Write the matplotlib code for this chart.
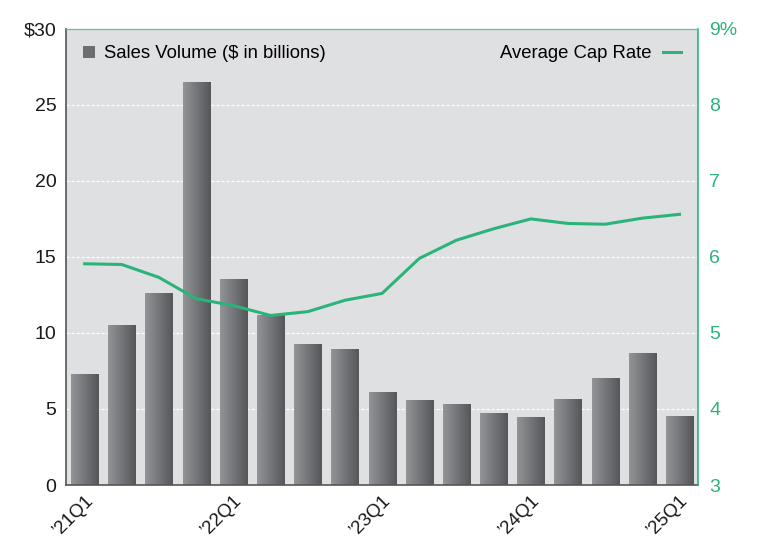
import numpy as np
import matplotlib.pyplot as plt
from matplotlib.patches import Patch
from matplotlib.lines import Line2D
from matplotlib.colors import LinearSegmentedColormap

plt.rcParams['font.family'] = ['Liberation Sans', 'DejaVu Sans']

# quarters '21Q1 .. '25Q1
quarters = ['21Q1', '21Q2', '21Q3', '21Q4', '22Q1', '22Q2', '22Q3', '22Q4',
            '23Q1', '23Q2', '23Q3', '23Q4', '24Q1', '24Q2', '24Q3', '24Q4', '25Q1']
sales_volume = [7.3, 10.55, 12.6, 26.5, 13.55, 11.2, 9.26, 8.97,
                6.12, 5.57, 5.36, 4.74, 4.45, 5.66, 7.07, 8.68, 4.57]
cap_rate = [5.91, 5.90, 5.73, 5.45, 5.36, 5.23, 5.28, 5.43,
            5.52, 5.98, 6.22, 6.37, 6.50, 6.44, 6.43, 6.51, 6.56]
shown_ticks = ['21Q1', '22Q1', '23Q1', '24Q1', '25Q1']

green = '#2bb47a'
bg = '#dfe0e2'

fig = plt.figure(figsize=(7.68, 5.54), dpi=100)
ax = fig.add_axes([0.086, 0.1245, 0.823, 0.8235])
ax.set_facecolor(bg)

x = np.arange(len(quarters))
width = 0.73

# bars with a light-to-dark horizontal gradient
cmap = LinearSegmentedColormap.from_list('bar', ['#939498', '#56575a'])
grad = np.linspace(0, 1, 64).reshape(1, -1)
bars = ax.bar(x, sales_volume, width, color='none', edgecolor='none', zorder=2)
for b in bars:
    x0, y0 = b.get_x(), b.get_y()
    im = ax.imshow(grad, cmap=cmap, aspect='auto', zorder=2,
                   extent=[x0, x0 + b.get_width(), y0, y0 + b.get_height()])
    im.set_clip_path(b)

ax.set_xlim(-0.5, len(quarters) - 0.5)
ax.set_ylim(0, 30)
ax.set_yticks([0, 5, 10, 15, 20, 25, 30])
ax.set_yticklabels(['0', '5', '10', '15', '20', '25', '$30'])
for yv in [5, 10, 15, 20, 25]:
    ax.axhline(yv, color='white', lw=0.9, ls=(0, (2.5, 1.5)), zorder=1)

ticks = [i for i, q in enumerate(quarters) if q in shown_ticks]
ax.set_xticks(ticks)
ax.set_xticklabels(['\u2019' + quarters[i] for i in ticks], rotation=45,
                   ha='right', va='top', rotation_mode='anchor')

ax.tick_params(axis='both', length=0, labelsize=14, colors='#1a1a1a')
ax.tick_params(axis='x', labelsize=13.5, pad=5)
ax.tick_params(axis='y', pad=7)
ax.spines['left'].set_color('#555555')
ax.spines['bottom'].set_color('#555555')
ax.spines['left'].set_linewidth(1.2)
ax.spines['bottom'].set_linewidth(1.2)
ax.spines['top'].set_color('#5cc39a')
ax.spines['right'].set_visible(False)

ax2 = ax.twinx()
ax2.plot(x, cap_rate, color=green, lw=2.2, zorder=3)
ax2.set_ylim(3, 9)
ax2.set_yticks([3, 4, 5, 6, 7, 8, 9])
ax2.set_yticklabels(['3', '4', '5', '6', '7', '8', '9%'])
ax2.tick_params(axis='y', length=0, labelsize=14, colors=green, pad=8)
ax2.spines['right'].set_color(green)
ax2.spines['right'].set_linewidth(1.2)
ax2.spines['top'].set_color('#5cc39a')
ax2.spines['left'].set_visible(False)
ax2.spines['bottom'].set_visible(False)

ax.legend(handles=[Patch(facecolor='#6d6e71', label='Sales Volume ($ in billions)')],
          loc='upper left', frameon=False, fontsize=13.3, handlelength=0.65,
          handleheight=0.65, handletextpad=0.5, borderaxespad=0.5)
ax2.legend(handles=[Line2D([], [], color=green, lw=2.2, label='Average Cap Rate')],
           loc='upper right', frameon=False, fontsize=13.3, markerfirst=False,
           handlelength=1.0, handletextpad=0.6, borderaxespad=0.5)

fig.savefig('out.png', dpi=100)
